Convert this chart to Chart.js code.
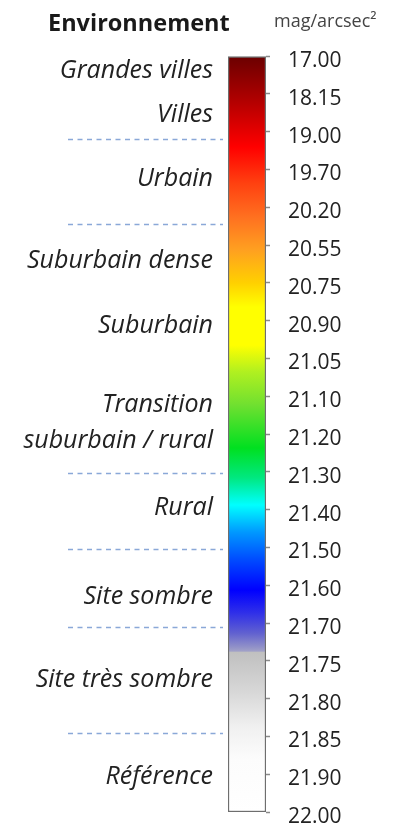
<!DOCTYPE html>
<html lang="fr">
<head>
<meta charset="utf-8">
<title>Environnement – mag/arcsec²</title>
<script src="https://cdn.jsdelivr.net/npm/chart.js@4/dist/chart.umd.min.js"></script>
<style>
  html, body { margin: 0; padding: 0; background: #fff; }
  #wrap { width: 406px; height: 828px; }
</style>
</head>
<body>
<div id="wrap"><canvas id="scaleChart" width="406" height="828"></canvas></div>
<script>
// Sky brightness scale, one tick per step (0 = top of the bar)
const tickLabels = [
  '17.00', '18.15', '19.00', '19.70', '20.20', '20.55', '20.75',
  '20.90', '21.05', '21.10', '21.20', '21.30', '21.40', '21.50',
  '21.60', '21.70', '21.75', '21.80', '21.85', '21.90', '22.00'
];

// Environment names, placed in tick units along the scale
const envLabels = [
  'Grandes villes', 'Villes', 'Urbain', 'Suburbain dense', 'Suburbain',
  'Transition', 'suburbain / rural', 'Rural', 'Site sombre',
  'Site très sombre', 'Référence'
];
const envPositions = [0.34, 1.51, 3.2, 5.37, 7.09, 9.18, 10.13, 11.9, 14.26, 16.46, 19.02];

// Dashed separators between environments (tick units)
const dividerPositions = [2.2, 4.44, 11.03, 13.04, 15.1, 17.9];

// Colour ramp of the bar (tick units -> colour)
const stopPositions = [0, 1.16, 2.41, 3.36, 4.26, 5.13, 6.0, 6.64, 7.65, 8.36, 9.23,
  10.37, 11.16, 11.88, 12.6, 13.28, 14.13, 14.74, 15.26, 15.63, 15.74, 15.78, 16.85, 17.75, 18.6, 20];
const stopColors = ['#6a0000', '#b00000', '#ff0000', '#ff4010', '#ff7020', '#ffa020', '#ffd000',
  '#ffff00', '#ffff00', '#b0f020', '#70e030', '#00e020', '#00e880', '#00ffff', '#0098ff',
  '#0050ff', '#0000ff', '#3030e8', '#6060d0', '#9090c8', '#a0a0c8', '#c0c0c0', '#d8d8d8',
  '#f0f0f0', '#fcfcfc', '#ffffff'];

const scaleMax = tickLabels.length - 1;
const FONT = '"Open Sans", "DejaVu Sans", sans-serif';

function barGradient(context) {
  const chart = context.chart;
  if (!chart.chartArea) return stopColors[0];
  const y = chart.scales.y;
  const g = chart.ctx.createLinearGradient(0, y.getPixelForValue(0), 0, y.getPixelForValue(scaleMax));
  stopPositions.forEach((p, i) => g.addColorStop(p / scaleMax, stopColors[i]));
  return g;
}

const annotations = {
  id: 'annotations',
  afterDraw(chart) {
    const ctx = chart.ctx;
    const y = chart.scales.y;
    ctx.save();

    // headers
    ctx.textBaseline = 'alphabetic';
    ctx.textAlign = 'left';
    ctx.fillStyle = '#1a1a1a';
    ctx.font = `bold 23.5px ${FONT}`;
    ctx.fillText('Environnement', 48, 31);
    ctx.fillStyle = '#444';
    ctx.font = `18px ${FONT}`;
    ctx.fillText('mag/arcsec²', 274, 27);

    // separators
    ctx.strokeStyle = '#8aa8d8';
    ctx.lineWidth = 1.5;
    ctx.setLineDash([5, 4.5]);
    dividerPositions.forEach(p => {
      const py = Math.round(y.getPixelForValue(p)) + 0.5;
      ctx.beginPath();
      ctx.moveTo(68, py);
      ctx.lineTo(223, py);
      ctx.stroke();
    });
    ctx.setLineDash([]);

    // environment names
    ctx.fillStyle = '#222';
    ctx.font = `italic 25px ${FONT}`;
    ctx.textAlign = 'right';
    ctx.textBaseline = 'middle';
    envLabels.forEach((label, i) => {
      ctx.fillText(label, 213, y.getPixelForValue(envPositions[i]) + 2);
    });

    ctx.restore();
  }
};

new Chart(document.getElementById('scaleChart'), {
  type: 'bar',
  data: {
    labels: [''],
    datasets: [{
      data: [[0, scaleMax]],
      backgroundColor: barGradient,
      borderColor: '#6e6e6e',
      borderWidth: 1.5,
      borderSkipped: false,
      barPercentage: 1,
      categoryPercentage: 1
    }]
  },
  options: {
    responsive: false,
    animation: false,
    layout: { padding: { left: 228, top: 56, bottom: 16, right: 0 } },
    plugins: {
      legend: { display: false },
      tooltip: { enabled: false }
    },
    scales: {
      x: { display: false },
      y: {
        position: 'right',
        reverse: true,
        min: 0,
        max: scaleMax,
        afterFit: (scale) => {
          scale.width = 140;
          scale.paddingTop = 0;
          scale.paddingBottom = 0;
        },
        ticks: {
          stepSize: 1,
          autoSkip: false,
          padding: 18,
          labelOffset: 5,
          color: '#222',
          font: { family: FONT, size: 21 },
          callback: (v) => tickLabels[v]
        },
        grid: { drawOnChartArea: false, tickLength: 4, tickColor: '#8a8a8a', tickWidth: 1.5 },
        border: { display: false }
      }
    }
  },
  plugins: [annotations]
});
</script>
</body>
</html>
